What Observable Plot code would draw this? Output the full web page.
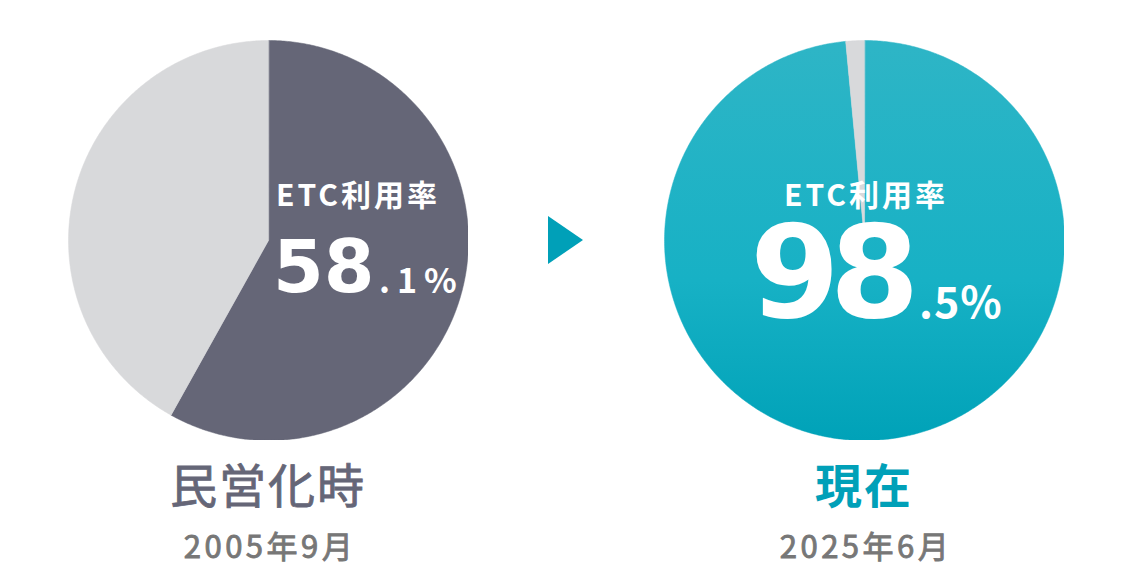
<!DOCTYPE html>
<html>
<head>
<meta charset="utf-8">
<script src="https://cdn.jsdelivr.net/npm/d3@7"></script>
<script src="https://cdn.jsdelivr.net/npm/@observablehq/plot@0.6"></script>
<style>
  html, body { margin: 0; padding: 0; background: #fff; }
  body { font-family: "Noto Sans CJK JP", "Noto Sans", sans-serif; }
  #wrap { position: relative; width: 1126px; height: 582px; overflow: hidden; }
  .pie { position: absolute; top: 40px; width: 400px; height: 400px; }
  .abs { position: absolute; line-height: 1; white-space: nowrap; }
  .rate { color: #fff; font-weight: 700; font-size: 30px; letter-spacing: 3px; }
  .num { color: #fff; font-weight: 700; font-family: "DejaVu Sans", sans-serif; }
  .dec { color: #fff; font-weight: 700; }
  .period { font-size: 47px; letter-spacing: 2px; text-align: center; width: 400px; }
  .date { font-weight: 400; font-size: 31px; letter-spacing: 3.5px; color: #777; text-align: center; width: 400px;
          -webkit-text-stroke: 0.9px #777; }
</style>
</head>
<body>
<div id="wrap"></div>
<script>
// ---- data ----
const periods = ["民営化時", "現在"];
const dates = ["2005年9月", "2025年6月"];
const etcRates = [58.1, 98.5];
const rateLabel = "ETC利用率";

// ---- styles ----
const mainFills = ["#656677", "url(#tealGrad)"];
const restFill = "#d8d9db";
const periodColors = ["#656677", "#00a0b8"];
const periodWeights = [400, 700];
const periodStrokes = ["0.8px #656677", "0px #00a0b8"];

function slicePolygon(from, to) {
  const pts = [[0, 0]];
  const a0 = from * 2 * Math.PI, a1 = to * 2 * Math.PI;
  const n = Math.max(2, Math.ceil((a1 - a0) / (Math.PI / 360)));
  for (let i = 0; i <= n; i++) {
    const a = a0 + (a1 - a0) * i / n;
    pts.push([Math.sin(a), Math.cos(a)]);
  }
  pts.push([0, 0]);
  return {type: "Polygon", coordinates: [pts]};
}
const circle = {type: "Polygon", coordinates: [d3.range(0, 721).map(i => [Math.sin(i * Math.PI / 360), Math.cos(i * Math.PI / 360)])]};

function piePlot(value, mainFill) {
  const slices = [
    {name: "ETC", from: 0, to: value / 100, fill: mainFill},
    {name: "other", from: value / 100, to: 1, fill: restFill}
  ].map(s => ({type: "Feature", properties: s, geometry: slicePolygon(s.from, s.to)}));
  return Plot.plot({
    width: 400, height: 400, margin: 0,
    projection: {type: "reflect-y", domain: circle},
    color: {type: "identity"},
    marks: [
      Plot.geo(slices, {fill: d => d.properties.fill, stroke: d => d.properties.fill, strokeWidth: 0.5})
    ]
  });
}

const wrap = document.getElementById("wrap");
const centers = [268, 864];

etcRates.forEach((v, i) => {
  const svg = piePlot(v, mainFills[i]);
  svg.classList.add("pie");
  svg.style.left = (centers[i] - 200) + "px";
  if (i === 1) {
    const ns = "http://www.w3.org/2000/svg";
    const defs = document.createElementNS(ns, "defs");
    const g = document.createElementNS(ns, "linearGradient");
    g.setAttribute("id", "tealGrad");
    g.setAttribute("x1", "0"); g.setAttribute("y1", "0");
    g.setAttribute("x2", "0"); g.setAttribute("y2", "1");
    [["0", "#2eb5c6"], ["0.6", "#17b1c5"], ["1", "#00a2b8"]].forEach(([o, c]) => {
      const s = document.createElementNS(ns, "stop");
      s.setAttribute("offset", o); s.setAttribute("stop-color", c);
      g.appendChild(s);
    });
    defs.appendChild(g);
    svg.insertBefore(defs, svg.firstChild);
  }
  wrap.appendChild(svg);
});

function addDiv(cls, html, style) {
  const d = document.createElement("div");
  d.className = "abs " + cls;
  d.innerHTML = html;
  Object.assign(d.style, style);
  wrap.appendChild(d);
  return d;
}
const [intL, decL] = String(etcRates[0]).split(".");
const [intR, decR] = String(etcRates[1]).split(".");

// left pie labels
addDiv("rate", rateLabel, {left: "276px", top: "178px"});
addDiv("num", intL, {left: "273px", top: "230px", fontSize: "73px", letterSpacing: "0px"});
addDiv("dec", "." + decL + "%", {left: "379px", top: "262px", fontSize: "34px", letterSpacing: "7px"});

// right pie labels
addDiv("rate", rateLabel, {left: "784px", top: "178px"});
addDiv("num", intR, {left: "750px", top: "208px", fontSize: "129px", letterSpacing: "-10px"});
addDiv("dec", "." + decR + "%", {left: "919px", top: "278px", fontSize: "43px", letterSpacing: "1px"});

// triangle
const ns = "http://www.w3.org/2000/svg";
const tri = document.createElementNS(ns, "svg");
tri.setAttribute("width", "40"); tri.setAttribute("height", "50");
tri.style.position = "absolute"; tri.style.left = "546px"; tri.style.top = "215px";
const p = document.createElementNS(ns, "polygon");
p.setAttribute("points", "2,1 37,25 2,49");
p.setAttribute("fill", "#00a0b8");
tri.appendChild(p);
wrap.appendChild(tri);

// period labels
periods.forEach((t, i) => {
  addDiv("period", t, {left: (centers[i] - 200) + "px", top: "459px", color: periodColors[i],
                       fontWeight: periodWeights[i], webkitTextStroke: periodStrokes[i]});
  addDiv("date", dates[i], {left: (centers[i] - 200 + 2) + "px", top: "529px"});
});
</script>
</body>
</html>
